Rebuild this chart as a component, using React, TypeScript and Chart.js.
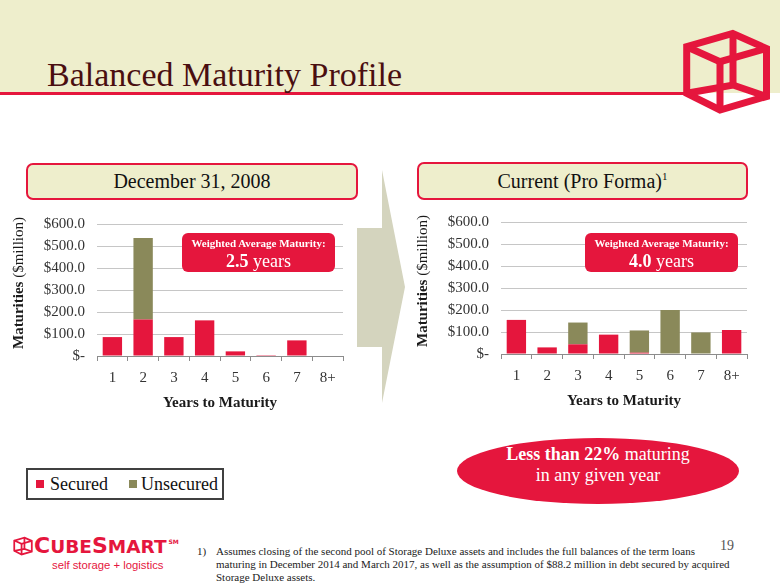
import React, { useEffect, useRef } from "react";
import { Chart, registerables } from "chart.js";

Chart.register(...registerables);

// ---------- data ----------
const categories = ["1", "2", "3", "4", "5", "6", "7", "8+"];
const seriesNames = ["Secured", "Unsecured"];
const dec2008Secured = [86, 166, 86, 162, 21, 4, 71, 0];
const dec2008Unsecured = [0, 370, 0, 0, 0, 0, 0, 0];
const proFormaSecured = [155, 30, 44, 88, 6, 0, 0, 109];
const proFormaUnsecured = [0, 0, 99, 0, 101, 200, 98, 0];
const yMin = 0;
const yMax = 600;
const yStep = 100;

const SERIF = '"Liberation Serif", "Times New Roman", serif';
const RED = "#E5163D";
const OLIVE = "#8A895A";
const BEIGE = "#EEEECC";

const yTitlePlugin = {
  id: "mixedYTitle",
  afterDraw(chart: any, _args: any, opts: any) {
    const { ctx, chartArea } = chart;
    ctx.save();
    const cx = opts.x;
    const cy = (chartArea.top + chartArea.bottom) / 2 + (opts.dy || 0);
    ctx.translate(cx, cy);
    ctx.rotate(-Math.PI / 2);
    const bold = `bold 15px ${SERIF}`;
    const normal = `15px ${SERIF}`;
    ctx.font = bold;
    const w1 = ctx.measureText(opts.boldText).width;
    ctx.font = normal;
    const w2 = ctx.measureText(opts.normalText).width;
    const x0 = -(w1 + w2) / 2;
    ctx.textBaseline = "middle";
    ctx.textAlign = "left";
    ctx.fillStyle = "#1a1a1a";
    ctx.font = bold;
    ctx.fillText(opts.boldText, x0, 0);
    ctx.font = normal;
    ctx.fillText(opts.normalText, x0 + w1, 0);
    ctx.restore();
  },
};

function MaturityChart({ secured, unsecured }: { secured: number[]; unsecured: number[] }) {
  const ref = useRef<HTMLCanvasElement | null>(null);
  useEffect(() => {
    if (!ref.current) return;
    const chart = new Chart(ref.current, {
      type: "bar",
      data: {
        labels: categories,
        datasets: [
          {
            label: seriesNames[0],
            data: secured,
            backgroundColor: RED,
            barPercentage: 0.63,
            categoryPercentage: 1,
          },
          {
            label: seriesNames[1],
            data: unsecured,
            backgroundColor: OLIVE,
            barPercentage: 0.63,
            categoryPercentage: 1,
          },
        ],
      },
      options: {
        responsive: false,
        animation: false,
        layout: { padding: { left: 0, right: 17, top: 24, bottom: 4 } },
        plugins: {
          legend: { display: false },
          tooltip: { enabled: false },
          mixedYTitle: { x: 19, dy: -7, boldText: "Maturities", normalText: " ($million)" },
        } as any,
        scales: {
          x: {
            stacked: true,
            grid: {
              offset: true,
              drawOnChartArea: false,
              drawTicks: true,
              tickLength: 5,
              color: "#8c8c8c",
            },
            border: { color: "#8c8c8c" },
            ticks: {
              color: "#333333",
              font: { family: SERIF, size: 15 },
              padding: 8,
            },
            title: {
              display: true,
              text: "Years to Maturity",
              color: "#1a1a1a",
              font: { family: SERIF, size: 15, weight: "bold" },
              padding: { top: 0, bottom: 4 },
            },
            afterFit: (s: any) => {
              s.height = 60;
            },
          },
          y: {
            stacked: true,
            min: yMin,
            max: yMax,
            ticks: {
              stepSize: yStep,
              padding: 12,
              color: "#333333",
              font: { family: SERIF, size: 15 },
              callback: (v: any) => (Number(v) === 0 ? "$-" : "$" + Number(v).toFixed(1)),
            },
            grid: { color: "#c6c6c6", drawTicks: false },
            border: { display: false },
            afterFit: (s: any) => {
              s.width = 97;
            },
          },
        },
      },
      plugins: [yTitlePlugin],
    });
    return () => chart.destroy();
  }, []);
  return <canvas ref={ref} width={360} height={220} style={{ width: 360, height: 220, display: "block" }} />;
}

function CubeIcon({ style, strokeWidth }: { style: React.CSSProperties; strokeWidth: number }) {
  return (
    <svg viewBox="681 28 91 87" style={style}>
      <g fill="none" stroke={RED} strokeWidth={strokeWidth} strokeLinejoin="miter">
        <path d="M732.7,33.5 L766.5,48.5 L766.5,96.5 L720,110 L686.7,93.3 L686.7,46.7 Z" />
        <path d="M686.7,46.7 L720,61.7 L766.5,48.5" />
        <path d="M720,61.7 L720,110" />
        <path d="M733,35 L733,85" />
        <path d="M686.7,93.3 L733,85 L766.5,96.5" />
      </g>
    </svg>
  );
}

export default function App() {
  const abs = (s: React.CSSProperties): React.CSSProperties => ({ position: "absolute", ...s });
  return (
    <div style={abs({ left: 0, top: 0, width: 780, height: 585, background: "#ffffff", overflow: "hidden", fontFamily: SERIF })}>
      {/* header band */}
      <div style={abs({ left: 0, top: 0, width: 780, height: 93, background: BEIGE })} />
      <div style={abs({ left: 0, top: 92, width: 686, height: 3, background: RED })} />
      <div style={abs({ left: 47, top: 58, fontSize: 34, lineHeight: "34px", color: "#4A0E10", whiteSpace: "nowrap" })}>
        Balanced Maturity Profile
      </div>
      <CubeIcon style={abs({ left: 681, top: 28, width: 91, height: 87 })} strokeWidth={7} />

      {/* arrow */}
      <svg style={abs({ left: 0, top: 0, width: 780, height: 585 })} viewBox="0 0 780 585">
        <polygon points="357,228 382,228 382,170 405,287 382,403 382,347 357,347" fill="#D4D4BE" />
      </svg>

      {/* header boxes */}
      <div
        style={abs({
          left: 26, top: 163, width: 328, height: 33, border: `2px solid ${RED}`, borderRadius: 7,
          background: BEIGE, textAlign: "center", fontSize: 20, lineHeight: "33px", color: "#111",
        })}
      >
        December 31, 2008
      </div>
      <div
        style={abs({
          left: 417, top: 162, width: 327, height: 34, border: `2px solid ${RED}`, borderRadius: 7,
          background: BEIGE, textAlign: "center", fontSize: 20, lineHeight: "34px", color: "#111",
        })}
      >
        Current (Pro Forma)<sup style={{ fontSize: 11, verticalAlign: "top", lineHeight: "24px" }}>1</sup>
      </div>

      {/* charts */}
      <div style={abs({ left: 0, top: 200 })}>
        <MaturityChart secured={dec2008Secured} unsecured={dec2008Unsecured} />
      </div>
      <div style={abs({ left: 404, top: 198 })}>
        <MaturityChart secured={proFormaSecured} unsecured={proFormaUnsecured} />
      </div>

      {/* weighted average boxes */}
      {[
        { left: 182, value: "2.5" },
        { left: 585, value: "4.0" },
      ].map((b) => (
        <div
          key={b.left}
          style={abs({
            left: b.left, top: 233, width: 153, height: 39, background: RED, borderRadius: 6,
            color: "#fff", textAlign: "center", paddingTop: 3, boxSizing: "border-box",
          })}
        >
          <div style={{ fontSize: 11, fontWeight: "bold", lineHeight: "14px" }}>Weighted Average Maturity:</div>
          <div style={{ fontSize: 18, lineHeight: "22px" }}>
            <b>{b.value}</b> years
          </div>
        </div>
      ))}

      {/* legend */}
      <div
        style={abs({
          left: 26, top: 468, width: 194, height: 28, border: "2px solid #404040", background: "#fff",
          display: "flex", alignItems: "center", fontSize: 18, color: "#111", whiteSpace: "nowrap",
        })}
      >
        <span style={{ display: "inline-block", width: 8, height: 8, background: RED, marginLeft: 8, marginRight: 6 }} />
        <span>{seriesNames[0]}</span>
        <span style={{ display: "inline-block", width: 8, height: 8, background: OLIVE, marginLeft: 21, marginRight: 4 }} />
        <span>{seriesNames[1]}</span>
      </div>

      {/* ellipse callout */}
      <div
        style={abs({
          left: 457, top: 438, width: 282, height: 66, borderRadius: "50%", background: RED,
          color: "#fff", textAlign: "center", fontSize: 18, lineHeight: "21px", paddingTop: 6, boxSizing: "border-box",
        })}
      >
        <div>
          <b>Less than 22%</b> maturing
        </div>
        <div>in any given year</div>
      </div>

      {/* footer logo */}
      <CubeIcon style={abs({ left: 13, top: 536, width: 20, height: 20 })} strokeWidth={8} />
      <div
        style={abs({
          left: 34, top: 535, fontFamily: '"DejaVu Sans", sans-serif', fontWeight: "bold", color: RED,
          whiteSpace: "nowrap", lineHeight: "22px",
        })}
      >
        <span style={{ fontSize: 22 }}>C</span>
        <span style={{ fontSize: 18.5 }}>UBE</span>
        <span style={{ fontSize: 22 }}>S</span>
        <span style={{ fontSize: 18.5 }}>MART</span>
        <span style={{ fontSize: 6, verticalAlign: "top", lineHeight: "14px", marginLeft: 2 }}>SM</span>
      </div>
      <div
        style={abs({
          left: 52, top: 558, fontFamily: '"Liberation Sans", Arial, sans-serif', fontSize: 11.3,
          color: RED, whiteSpace: "nowrap", lineHeight: "14px",
        })}
      >
        self storage + logistics
      </div>

      {/* footnote */}
      <div style={abs({ left: 197, top: 545, fontSize: 11, lineHeight: "13px", color: "#222", whiteSpace: "nowrap" })}>
        1)
      </div>
      <div style={abs({ left: 216, top: 545, fontSize: 11, lineHeight: "13px", color: "#222", whiteSpace: "nowrap" })}>
        Assumes closing of the second pool of Storage Deluxe assets and includes the full balances of the term loans
        <br />
        maturing in December 2014 and March 2017, as well as the assumption of $88.2 million in debt secured by acquired
        <br />
        Storage Deluxe assets.
      </div>
      <div style={abs({ left: 720, top: 538, fontSize: 14, lineHeight: "16px", color: "#555" })}>19</div>
    </div>
  );
}
